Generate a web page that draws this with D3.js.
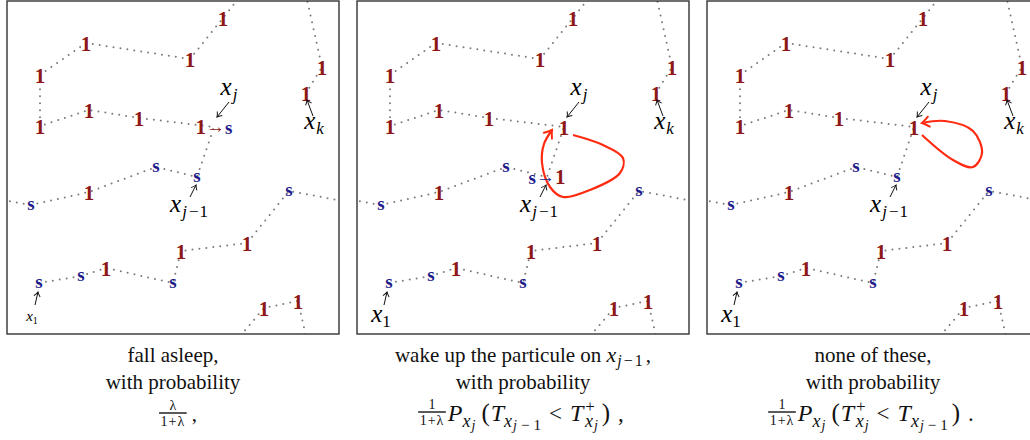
<!DOCTYPE html>
<html>
<head>
<meta charset="utf-8">
<script src="https://cdn.jsdelivr.net/npm/d3@7"></script>
<style>
  body { margin: 0; background: #fff; }
  svg { display: block; }
  text { white-space: pre; font-family: "Liberation Serif", "DejaVu Serif", serif; }
</style>
</head>
<body>
<div id="chart"></div>
<script>
// Walk on the torus, in panel units (0..332 across, 0..333 down)
const walkMain = [[-4, 199], [24, 204], [82, 191], [149, 166], [190, 176], [207, 126], [132, 117],
  [82, 109], [33, 125], [33, 74], [79, 42], [183, 58], [216, 17], [234, -6]]
const walkLow = [[32, 282], [74, 275], [99, 267], [166, 282], [174, 250], [240, 242], [282, 190], [336, 200]]
const walkCornerLow = [[229, 340], [257, 307], [291, 300], [300, 340]]
const walkCornerTop = [[299, -6], [315, 66], [299, 92]]

// Sites: x, y, kind ('1' awake, 's' asleep, 'xj', 'xj1' = special sites)
const sites = [
  [24, 204, 's'], [82, 191, '1'], [149, 166, 's'], [190, 176, 'xj1'], [207, 126, 'xj'],
  [132, 117, '1'], [82, 109, '1'], [33, 125, '1'], [33, 74, '1'], [79, 42, '1'],
  [183, 58, '1'], [216, 17, '1'], [315, 66, '1'], [299, 92, '1'],
  [32, 282, 's'], [74, 275, 's'], [99, 267, '1'], [166, 282, 's'], [174, 250, '1'],
  [240, 242, '1'], [282, 190, 's'], [257, 307, '1'], [291, 300, '1']
]
const stateXj = ['1→s', '1', '1']
const stateXj1 = ['s', 's→1', 's']

// red loops of panels 2 and 3
const loops = [
  null,
  [[216, 134], [246, 144], [266, 157], [263, 172], [233, 189], [206, 196], [193, 186], [185, 162], [187, 143], [195, 129]],
  [[215, 134], [246, 159], [266, 166], [275, 152], [266, 130], [238, 120], [215, 122]]
]

const captionTop = ['fall asleep,', 'wake up the particule on ', 'none of these,']
const captionMid = ['with probability', 'with probability', 'with probability']

// Dimensions
const dimensions = { width: 1030, height: 440, panelW: 332, panelH: 333, left: 7, top: 1, step: 350 }

const svg = d3.select('#chart')
  .append('svg')
  .attr('width', dimensions.width)
  .attr('height', dimensions.height)

const defs = svg.append('defs')
defs.append('clipPath').attr('id', 'frame')
  .append('rect').attr('width', dimensions.panelW).attr('height', dimensions.panelH)

defs.append('marker').attr('id', 'tipK')
  .attr('viewBox', '-6 -5 8 10').attr('markerWidth', 8).attr('markerHeight', 10)
  .attr('markerUnits', 'userSpaceOnUse').attr('orient', 'auto')
  .append('path').attr('d', 'M-4.5,-3.2 Q-1.5,-0.6 0,0 Q-1.5,0.6 -4.5,3.2')
  .attr('fill', 'none').attr('stroke', '#111').attr('stroke-width', 1)

defs.append('marker').attr('id', 'tipR')
  .attr('viewBox', '-10 -7 12 14').attr('markerWidth', 12).attr('markerHeight', 14)
  .attr('markerUnits', 'userSpaceOnUse').attr('orient', 'auto')
  .append('path').attr('d', 'M-7,-5 Q-2,-1 0,0 Q-2,1 -7,5')
  .attr('fill', 'none').attr('stroke', '#ff2a10').attr('stroke-width', 2).attr('stroke-linecap', 'round')

// Scales
const xScale = d3.scaleLinear().domain([0, dimensions.panelW]).range([0, dimensions.panelW])
const yScale = d3.scaleLinear().domain([0, dimensions.panelH]).range([0, dimensions.panelH])

const walkLine = d3.line()
  .x(d => xScale(d[0]))
  .y(d => yScale(d[1]))

const loopLine = d3.line()
  .x(d => xScale(d[0]))
  .y(d => yScale(d[1]))
  .curve(d3.curveCatmullRom.alpha(0.5))

const RED = '#8e1717'
const BLUE = '#1c1c8c'

function siteText(g, x, y, label) {
  const t = g.append('text')
    .attr('x', xScale(x))
    .attr('text-anchor', 'middle')
  const isOne = label[0] === '1'
  t.attr('y', yScale(y) + (label.length > 1 ? 7 : (isOne ? 8 : 5)))
  const first = label[0]
  label.split('').forEach(ch => {
    t.append('tspan')
      .text(ch)
      .attr('fill', ch === '1' ? RED : ch === 's' ? BLUE : (first === '1' ? RED : BLUE))
      .attr('dy', ch === '→' ? -1 : (ch === '1' || ch === 's') && label.length > 1 && label.indexOf(ch) > 0 ? 1 : 0)
      .style('font-size', ch === '1' ? '21px' : '19px')
      .style('font-weight', ch === '→' ? 'normal' : 'bold')
  })
}

// math-ish label: pieces [text, size, italic, baseline offset, dx]
function mathRun(g, x, y, pieces, anchor) {
  const t = g.append('text').attr('x', x).attr('y', y).attr('text-anchor', anchor || 'start')
  let cur = 0
  pieces.forEach(p => {
    const off = p[3] || 0
    t.append('tspan')
      .attr('dy', off - cur)
      .attr('dx', p[4] || 0)
      .style('font-size', p[1] + 'px')
      .style('font-style', p[2] ? 'italic' : 'normal')
      .text(p[0])
    cur = off
  })
  return t
}

function pointer(g, from, to) {
  g.append('line')
    .attr('x1', xScale(from[0])).attr('y1', yScale(from[1]))
    .attr('x2', xScale(to[0])).attr('y2', yScale(to[1]))
    .attr('stroke', '#111').attr('stroke-width', 1)
    .attr('marker-end', 'url(#tipK)')
}

function fraction(g, x, yLine, num, den) {
  const n = g.append('text').attr('x', x).attr('y', yLine - 3).attr('text-anchor', 'middle')
    .style('font-size', '14px').text(num)
  const d = g.append('text').attr('x', x).attr('y', yLine + 13).attr('text-anchor', 'middle')
    .style('font-size', '14px').style('letter-spacing', '1px').text(den)
  const w = Math.max(n.node().getComputedTextLength(), d.node().getComputedTextLength()) + 3
  g.append('line').attr('x1', x - w / 2).attr('x2', x + w / 2)
    .attr('y1', yLine).attr('y2', yLine).attr('stroke', '#000').attr('stroke-width', 1.3)
  return w
}

const subXj = [['x', 18, true, 6], ['j', 14, true, 9, 1]]
const subXj1 = [['x', 18, true, 6], ['j', 14, true, 9, 1], ['−', 15, false, 9, 4], ['1', 15, false, 9, 4]]
const supSubXj = [['+', 17, false, -9, 2], ['x', 18, true, 6, -10], ['j', 14, true, 9, 1]]

const formulas = [
  null,
  [['P', 24, true, 0, 1], ...subXj, ['(', 25, false, 0, 6], ['T', 24, true, 0, 1], ...subXj1,
    ['<', 23, false, 0, 8], ['T', 24, true, 0, 8], ...supSubXj, [')', 25, false, 0, 4], [',', 23, false, 0, 8]],
  [['P', 24, true, 0, 1], ...subXj, ['(', 25, false, 0, 6], ['T', 24, true, 0, 1], ...supSubXj,
    ['<', 23, false, 0, 8], ['T', 24, true, 0, 8], ...subXj1, [')', 25, false, 0, 4], ['.', 23, false, 0, 8]]
]

d3.range(3).forEach(i => {
  const g = svg.append('g')
    .attr('transform', `translate(${dimensions.left + i * dimensions.step}, ${dimensions.top})`)

  const inner = g.append('g').attr('clip-path', 'url(#frame)')

  inner.selectAll('path.walk')
    .data([walkMain, walkLow, walkCornerLow, walkCornerTop])
    .join('path')
    .attr('class', 'walk')
    .attr('d', walkLine)
    .attr('fill', 'none')
    .attr('stroke', '#7a7a7a')
    .attr('stroke-width', 2)
    .attr('stroke-linecap', 'round')
    .attr('stroke-dasharray', '0 7')

  if (loops[i]) {
    inner.append('path')
      .attr('d', loopLine(loops[i]))
      .attr('fill', 'none')
      .attr('stroke', '#ff2a10')
      .attr('stroke-width', 2.2)
      .attr('marker-end', 'url(#tipR)')
  }

  sites.forEach(s => {
    const label = s[2] === 'xj' ? stateXj[i] : s[2] === 'xj1' ? stateXj1[i] : s[2]
    siteText(inner, s[0], s[1], label)
  })

  // annotations
  mathRun(inner, xScale(222), yScale(94), [['x', 25, true], ['j', 17, true, 5, 1]], 'middle')
  pointer(inner, [222, 101], [210, 116])
  mathRun(inner, xScale(307), yScale(128), [['x', 25, true], ['k', 17, true, 5, 1]], 'middle')
  pointer(inner, [306, 115], [300, 99])
  mathRun(inner, xScale(182), yScale(211), [['x', 25, true], ['j', 17, true, 5, 1], ['−', 17, false, 5, 2], ['1', 17, false, 5, 1]], 'middle')
  pointer(inner, [183, 196], [189, 184])
  if (i === 0) {
    mathRun(inner, xScale(25), yScale(320), [['x', 15, true], ['1', 10, false, 3]], 'middle')
    pointer(inner, [28, 304], [31, 291])
  } else {
    mathRun(inner, xScale(24), yScale(321), [['x', 25, true], ['1', 17, false, 5]], 'middle')
    pointer(inner, [27, 304], [30, 291])
  }

  g.append('rect')
    .attr('width', dimensions.panelW)
    .attr('height', dimensions.panelH)
    .attr('fill', 'none')
    .attr('stroke', '#333')
    .attr('stroke-width', 1.4)

  // captions
  const cx = dimensions.left + i * dimensions.step + dimensions.panelW / 2
  const cap = svg.append('g').attr('fill', '#111')
  if (i === 1) {
    mathRun(cap, cx, 362, [[captionTop[i], 21], ['x', 22, true], ['j', 16, true, 4, 1], ['−', 16, false, 4, 2],
      ['1', 16, false, 4, 2], [',', 21, false, 0, 3]], 'middle')
  } else {
    mathRun(cap, cx, 362, [[captionTop[i], 21]], 'middle')
  }
  mathRun(cap, cx, 389, [[captionMid[i], 21]], 'middle')

  const f = cap.append('g')
  if (i === 0) {
    const w = fraction(f, 0, 413, 'λ', '1+λ')
    mathRun(f, w / 2 + 5, 421, [[',', 21]])
  } else {
    const w = fraction(f, 0, 412, '1', '1+λ')
    mathRun(f, w / 2 + 1, 421, formulas[i])
  }
  const bb = f.node().getBBox()
  f.attr('transform', `translate(${cx - (bb.x + bb.width / 2) + (i === 0 ? 5 : -2)}, 0)`)
})
</script>
</body>
</html>
